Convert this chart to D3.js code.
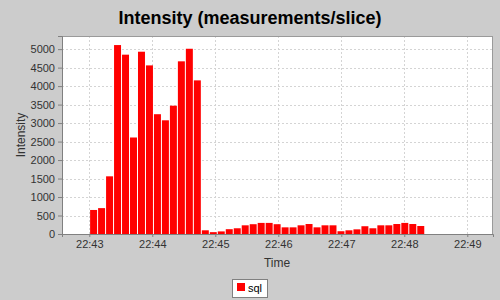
<!DOCTYPE html>
<html><head><meta charset="utf-8">
<script src="https://cdn.jsdelivr.net/npm/d3@7"></script>
<style>body{margin:0;background:#cccccc;}svg{display:block;font-family:"Liberation Sans",Arial,sans-serif;}</style>
</head><body>
<svg id="c" width="500" height="300"></svg>
<script>
// Data
const title = "Intensity (measurements/slice)";
const seriesName = "sql";
const sliceStart = "22:43:00.3";
const sliceSeconds = 7.6;
const values = [650, 700, 1560, 5110, 4850, 2610, 4930, 4560, 3240, 3075, 3470, 4670, 5010, 4155,
  100, 50, 70, 130, 155, 235, 265, 300, 300, 265, 180, 180, 235, 270, 180, 235, 235,
  75, 100, 126, 210, 155, 235, 235, 270, 300, 270, 216];
const yTicks = [0, 500, 1000, 1500, 2000, 2500, 3000, 3500, 4000, 4500, 5000];
const xTickLabels = ["22:43", "22:44", "22:45", "22:46", "22:47", "22:48", "22:49"];
const xDomainLabels = ["22:42:34", "22:49:24.5"];
const yMax = 5355;

const parseT = s => {
  const [h, m, sec] = s.split(":").map(Number);
  return new Date(2000, 0, 1, h, m, 0, Math.round(sec * 1000));
};
const t0 = parseT(sliceStart);
const data = values.map((v, i) => ({
  start: new Date(+t0 + i * sliceSeconds * 1000),
  end: new Date(+t0 + (i + 1) * sliceSeconds * 1000),
  v
}));

const svg = d3.select("#c");
const L = 62, R = 493, T = 36, B = 234;
const x = d3.scaleTime().domain(xDomainLabels.map(parseT)).range([L, R]);
const y = d3.scaleLinear().domain([0, yMax]).range([B, T]);

svg.append("rect").attr("width", 500).attr("height", 300).attr("fill", "#cccccc");
svg.append("rect").attr("x", L).attr("y", T).attr("width", R - L).attr("height", B - T)
  .attr("fill", "#ffffff");

// title
svg.append("text").attr("x", 250).attr("y", 24).attr("text-anchor", "middle")
  .attr("font-size", 18).attr("font-weight", "bold").attr("fill", "#000").text(title);

const xTickDates = xTickLabels.map(s => parseT(s + ":00"));
// grid
const grid = svg.append("g").attr("stroke", "#d4d4d4").attr("stroke-width", 1).attr("stroke-dasharray", "2,2");
yTicks.forEach(t => { if (t > 0) grid.append("line").attr("x1", L).attr("x2", R).attr("y1", Math.round(y(t)) + 0.5).attr("y2", Math.round(y(t)) + 0.5); });
xTickDates.forEach(d => grid.append("line").attr("y1", T).attr("y2", B).attr("x1", Math.round(x(d)) + 0.5).attr("x2", Math.round(x(d)) + 0.5));

// bars
svg.append("g").selectAll("rect").data(data).join("rect")
  .attr("x", d => x(d.start) + 0.5)
  .attr("width", d => x(d.end) - x(d.start) - 1)
  .attr("y", d => y(d.v))
  .attr("height", d => B - y(d.v))
  .attr("fill", "#ff0000");

// plot border
svg.append("rect").attr("x", L + 0.5).attr("y", T + 0.5).attr("width", R - L - 1).attr("height", B - T)
  .attr("fill", "none").attr("stroke", "#9a9a9a").attr("stroke-width", 1);

// axes
const yAxis = d3.axisLeft(y).tickValues(yTicks).tickSize(4).tickPadding(3).tickFormat(d3.format("d"));
const gy = svg.append("g").attr("transform", `translate(${L},0)`).call(yAxis);
gy.select(".domain").attr("stroke", "#808080");
gy.selectAll(".tick line").attr("stroke", "#808080");
gy.selectAll("text").attr("font-size", 11).attr("fill", "#333").attr("font-family", "Liberation Sans, Arial, sans-serif");

const xAxis = d3.axisBottom(x).tickValues(xTickDates).tickSize(3).tickPadding(3)
  .tickFormat((d, i) => xTickLabels[i]);
const gx = svg.append("g").attr("transform", `translate(0,${B})`).call(xAxis);
gx.select(".domain").attr("stroke", "#808080");
gx.selectAll(".tick line").attr("stroke", "#808080");
gx.selectAll("text").attr("font-size", 11).attr("fill", "#333").attr("font-family", "Liberation Sans, Arial, sans-serif");

// axis titles
svg.append("text").attr("x", 277).attr("y", 267).attr("text-anchor", "middle")
  .attr("font-size", 12).attr("fill", "#333").text("Time");
svg.append("text").attr("transform", "translate(25,135) rotate(-90)").attr("text-anchor", "middle")
  .attr("font-size", 12).attr("fill", "#333").text("Intensity");

// legend
const lg = svg.append("g");
lg.append("rect").attr("x", 232.5).attr("y", 279.5).attr("width", 35).attr("height", 18)
  .attr("fill", "#ffffff").attr("stroke", "#808080");
lg.append("rect").attr("x", 237).attr("y", 283).attr("width", 8).attr("height", 8).attr("fill", "#ff0000");
lg.append("text").attr("x", 248).attr("y", 292).attr("font-size", 11).attr("fill", "#000").text(seriesName);
</script>
</body></html>
